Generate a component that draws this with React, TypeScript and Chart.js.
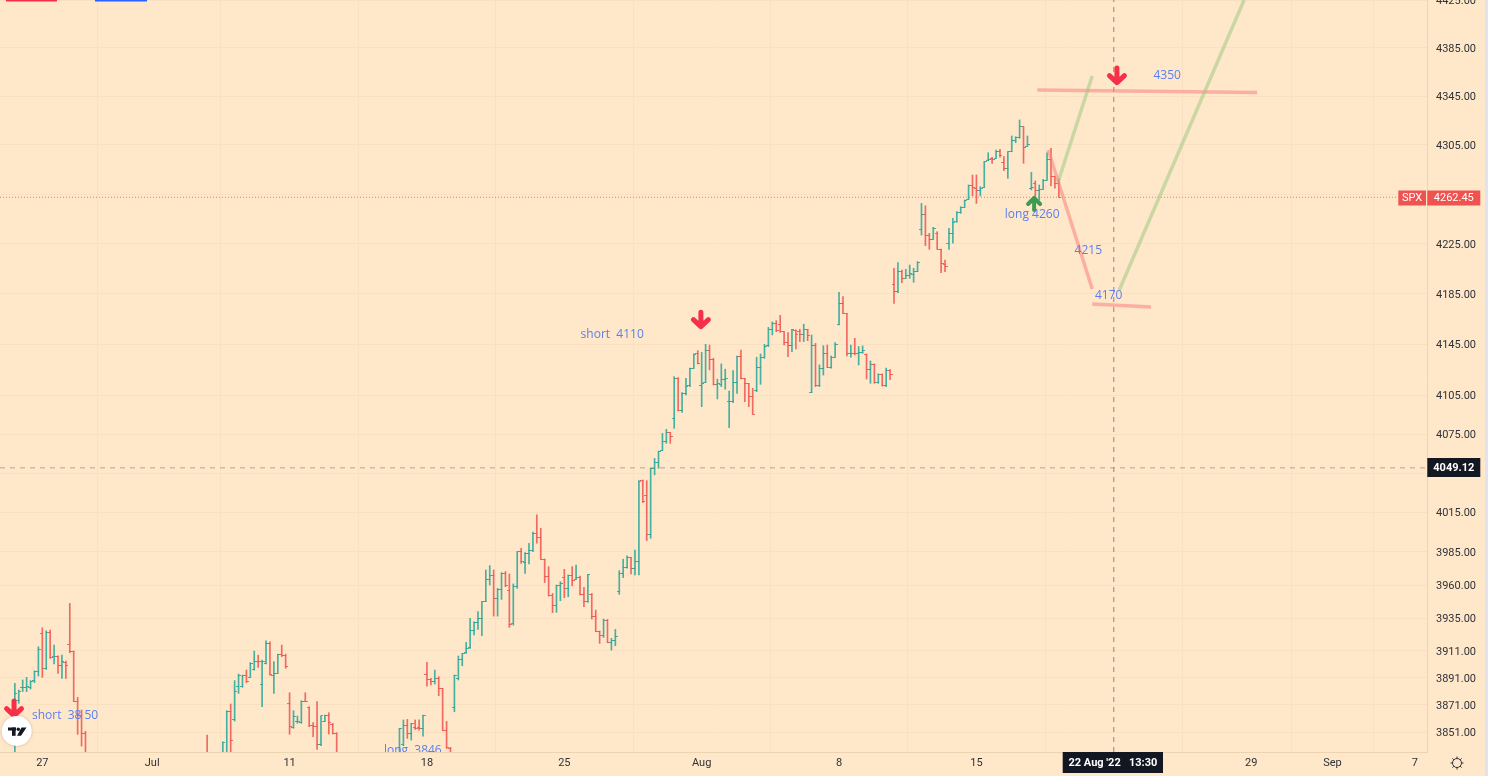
import React, { useEffect, useRef } from "react";
import { Chart, registerables } from "chart.js";

Chart.register(...registerables);

// Bars run over a trading-hour index (7 bars per session). Stretches that lie wholly below the axis are left out.
const barSegments = [[-7, 11], [42, 42], [46, 75], [91, 259]];

const opens = [
  3832, 3874.6, 3884, 3884, 3884, 3888.9, 3895.5, 3923.9, 3898, 3924.4, 3906.6, 3906.6, 3900.4, 3902.2, 3916, 3910.8, 3873.4, 3863.1, 3850.2,
  3836,
  3832, 3835, 3866, 3860, 3884.4, 3884.4, 3893, 3891.3, 3897.2, 3903.4, 3885.7, 3901.2, 3916.5, 3893, 3894.3, 3908.5, 3907.3, 3872.2, 3854.6, 3858.7, 3858, 3873.9, 3869.2, 3855.6, 3855.1, 3841.7, 3858.7, 3862.9, 3857, 3850.2,
  3834, 3841.7, 3855.8, 3850.2, 3854.3, 3854.3, 3853.9, 3893.5, 3889.9, 3888.1, 3890.6, 3883, 3852.6, 3839.2,
  3869.2, 3890.6, 3904.9, 3909.5, 3913.2, 3925.9, 3931.9, 3935.1, 3947.6, 3963.9, 3966.9, 3950.1, 3957.1, 3968.9, 3956.3, 3931.4, 3958.9, 3985.2, 3977.2, 3984, 3986.5, 3999.2, 3995.9, 3979.5, 3966.4, 3952.6,
  3945.1, 3959.6, 3965.9, 3957.6, 3967.2, 3964.4, 3965.9, 3953.1, 3947.6, 3953.3, 3936.4, 3925.2, 3922.7, 3933.9, 3917.2, 3919, 3955.6, 3968.9, 3973.2, 3981, 3972.7, 3977.7, 4039.3, 4028.3, 3998.4,
  4048.8, 4053.1, 4062.3, 4069.3, 4076.2, 4087.4, 4118, 4093.1, 4106.8, 4112.5, 4126.4, 4137.6, 4112.5, 4115.2, 4140.2, 4133.4, 4113.3, 4113.3, 4117.2, 4100.3, 4100.8, 4115.4, 4135.5, 4118, 4114.1, 4104.2,
  4108.6, 4127.1, 4135, 4143.9, 4157, 4161.2, 4160.4, 4155.2, 4146.5, 4144.1, 4155.9, 4155.2, 4152.5, 4156.5, 4107.6, 4144.6, 4112.8, 4126.4, 4138.1, 4127.1, 4135, 4160.9, 4177, 4169.6, 4137.6, 4138.1,
  4137.6, 4138.6, 4136.8, 4125.6, 4129, 4115.2, 4121.6, 4113, 4124.8, 4192.1, 4186.8, 4203.2, 4197.4, 4200, 4200.8, 4202.7, 4236.1, 4248.2, 4231.5, 4228.8, 4233.4, 4220.8, 4208.8, 4225.4, 4233.4, 4242.8,
  4250.3, 4254.3, 4260.7, 4271.6, 4269.7, 4267.9, 4270.6, 4292.2, 4294, 4294, 4299.4, 4290.8, 4286, 4299.4, 4308.5, 4311.2, 4319.9, 4304, 4269.4, 4273.9, 4267.9, 4269, 4276.4, 4293.2, 4279.1, 4273.7,
];

const highs = [
  3886.9, 3882, 3889.4, 3891.3, 3888.9, 3896.2, 3914, 3928.1, 3925.9, 3926.3, 3915.2, 3907.3, 3907.8, 3903.4, 3946.3, 3910.8, 3876.6, 3867.3, 3851.7,
  3849,
  3844.1, 3866.8, 3871.7, 3888.9, 3893.8, 3893, 3896.7, 3902.2, 3910.8, 3907.8, 3904.1, 3918.4, 3917.7, 3902.9, 3908.5, 3915.2, 3908.5, 3880, 3866.8, 3862.9, 3874.1, 3880, 3869.7, 3858, 3873.4, 3862.9, 3863.6, 3865.3, 3857.5, 3850.7,
  3853.9, 3860, 3860.4, 3857.5, 3860, 3860, 3863.6, 3902.4, 3890.6, 3896.7, 3891.8, 3883.3, 3859, 3840,
  3893, 3907.1, 3909, 3917.2, 3935.1, 3932.6, 3940.1, 3947.6, 3971.4, 3974.7, 3971.4, 3957.6, 3969.4, 3970.2, 3968.4, 3960.9, 3985.2, 3987.8, 3984.5, 3991.6, 4000, 4013.1, 4003, 3979.7, 3973.9, 3953.8,
  3960.1, 3962.6, 3971.9, 3967.7, 3973.9, 3975.2, 3966.9, 3958.4, 3968.2, 3953.8, 3941.3, 3925.7, 3934.6, 3934.4, 3920.2, 3926.9, 3970.9, 3979.5, 3982, 3981, 3986.5, 4039.3, 4039.8, 4039.3, 4048.8,
  4056.4, 4062, 4075.7, 4078.8, 4076.5, 4119.8, 4119, 4107.3, 4118.5, 4126.6, 4137.6, 4140.2, 4138.9, 4145.2, 4144.6, 4134.2, 4117.8, 4129.8, 4125.6, 4108.6, 4124.5, 4136, 4140.7, 4118.5, 4114.6, 4110.7,
  4135, 4137.6, 4145.2, 4158.5, 4162.8, 4163.8, 4168, 4155.2, 4154.4, 4157, 4156.5, 4157, 4161, 4157, 4152.5, 4145.9, 4129, 4144.1, 4144.6, 4136, 4146.5, 4186.3, 4182.8, 4169.6, 4144.6, 4149.9,
  4143.4, 4143.9, 4137.6, 4132.1, 4129.8, 4122, 4122, 4126.6, 4125.3, 4205.4, 4209.9, 4204, 4204.6, 4208, 4205.4, 4210.7, 4257.5, 4255.6, 4233.4, 4238.2, 4234.7, 4220.8, 4212, 4237.4, 4245.5, 4250.8,
  4254.8, 4260.2, 4272.4, 4280.5, 4280.5, 4271.1, 4291.4, 4298.6, 4294.9, 4300.8, 4301.4, 4295.4, 4299.4, 4312.3, 4311.7, 4325.4, 4319.9, 4312.3, 4282.7, 4275.7, 4272.4, 4276.9, 4298.6, 4302.2, 4279.7, 4277.3,
];

const lows = [
  3830, 3872.2, 3880.8, 3880.8, 3882.7, 3887.4, 3892.3, 3891.3, 3897.2, 3905.4, 3901.2, 3894.3, 3890.6, 3890.6, 3909.5, 3873.4, 3849.5, 3840.9, 3830,
  3830,
  3830, 3830, 3830, 3859.2, 3879.5, 3884, 3887.4, 3891.3, 3896.7, 3898.7, 3869.7, 3901.2, 3893, 3879.5, 3894.3, 3906.6, 3898, 3849.5, 3853.9, 3857.5, 3857.5, 3873.4, 3855.1, 3847.8, 3838.5, 3841.2, 3858.7, 3849.7, 3849.7, 3830,
  3830, 3841.2, 3846.5, 3845.3, 3853.1, 3852.6, 3848.2, 3884.9, 3885.7, 3886.4, 3877.8, 3852.1, 3839.2, 3830,
  3866, 3889.4, 3899.9, 3909, 3912.7, 3922.7, 3926.9, 3922.2, 3947.6, 3960.1, 3936.8, 3936.8, 3949.3, 3958.9, 3928.4, 3930.1, 3957.6, 3976.4, 3968.9, 3975.9, 3985.2, 3991.6, 3979.5, 3961.9, 3951.8, 3939.4,
  3939.6, 3948.3, 3950.6, 3951.3, 3959.4, 3964.4, 3952.6, 3943.8, 3947.1, 3934.6, 3925.2, 3916.5, 3920.9, 3917, 3911.5, 3914.7, 3953.1, 3965.7, 3972.7, 3968.4, 3967.7, 3967.7, 4022.5, 3993.6, 3995.4,
  4043.7, 4048.8, 4062.3, 4068, 4068, 4079.6, 4093.1, 4092, 4105.5, 4112, 4126.4, 4129.8, 4096.4, 4115.2, 4125.1, 4113.3, 4102.4, 4112, 4110, 4080.1, 4099.5, 4106.8, 4118, 4100.3, 4096.4, 4090.5,
  4108.1, 4113.8, 4134.2, 4143.4, 4152.5, 4155.2, 4154.6, 4144.6, 4135.5, 4139.4, 4141.5, 4147.3, 4147.3, 4148, 4107.3, 4112, 4112, 4121.1, 4126.9, 4126.4, 4135, 4160.4, 4169.6, 4136, 4135, 4136.8,
  4129, 4138.1, 4118, 4114.6, 4114.6, 4114.6, 4112.5, 4112, 4117.5, 4177.5, 4185.9, 4193.9, 4197.4, 4197.4, 4194.2, 4202.7, 4232, 4223.5, 4220.5, 4228.8, 4220.8, 4201.9, 4202.7, 4220.5, 4225.4, 4242.2,
  4249.5, 4254.3, 4260.7, 4263.6, 4257.5, 4263.5, 4270.6, 4292.2, 4290, 4294, 4294.9, 4284, 4277.8, 4299.4, 4306.8, 4310.4, 4290, 4304, 4268.4, 4261.6, 4260.2, 4269, 4276.4, 4271.6, 4269.8, 4262.5,
];

const closes = [
  3879.5, 3880.8, 3884, 3884.5, 3888.1, 3895.5, 3912, 3898, 3924.4, 3905.9, 3907, 3900.4, 3902.9, 3900.4, 3910.8, 3873.9, 3863.1, 3850.2, 3834,
  3832,
  3843.4, 3866, 3844.8, 3880.8, 3892.8, 3893, 3888.1, 3901.7, 3902.9, 3902.9, 3902.9, 3916.5, 3893.5, 3894.3, 3908.5, 3907.3, 3899.2, 3855.1, 3862.4, 3858.7, 3873.9, 3873.7, 3855.6, 3855.1, 3841.7, 3862.9, 3862.9, 3858.2, 3850.2, 3834,
  3853.9, 3855.8, 3850.2, 3857.5, 3853.6, 3853.6, 3863.1, 3889.9, 3888.6, 3890.6, 3882.8, 3852.6, 3840, 3834,
  3892.8, 3904.9, 3909, 3913, 3925.9, 3931.9, 3935.1, 3947.6, 3963.9, 3966.9, 3950.1, 3957.1, 3968.9, 3959.4, 3930.9, 3958.9, 3985.2, 3977.7, 3984, 3986.5, 3999.2, 3995.9, 3979.5, 3966.4, 3952.6, 3945.1,
  3959.6, 3961.4, 3957.6, 3967.2, 3963.6, 3965.9, 3953.1, 3947.6, 3967.7, 3936.4, 3925.4, 3922.7, 3933.9, 3917.2, 3919, 3921.4, 3968.9, 3973.2, 3981, 3972.7, 3977.7, 4038.5, 4023.2, 3998.4, 4048.8,
  4053.1, 4061.8, 4069.3, 4076.2, 4073.1, 4118.5, 4093.8, 4106.8, 4112, 4126.4, 4137, 4130.3, 4114.6, 4140.2, 4133.4, 4113.8, 4114.1, 4117.2, 4118.5, 4100.8, 4115.4, 4135.5, 4118.5, 4114.6, 4104.7, 4090.7,
  4127.1, 4135, 4143.4, 4157, 4161.2, 4155.9, 4155.2, 4146.7, 4144.1, 4156.5, 4152.5, 4152.5, 4156.5, 4152, 4144.6, 4112.8, 4126.4, 4138.1, 4127.1, 4135, 4145.4, 4177, 4169.6, 4137.6, 4138.1, 4137.6,
  4138.6, 4140.2, 4125.6, 4129, 4115.2, 4121.6, 4113, 4124.8, 4121.6, 4186.8, 4203.2, 4197.4, 4200, 4201.4, 4202.7, 4210.2, 4248.2, 4231.5, 4228.8, 4237.4, 4220.8, 4209.4, 4207.2, 4233.4, 4242.2, 4250.3,
  4254.3, 4259.7, 4271.6, 4270.5, 4267.8, 4269.8, 4291.4, 4293.2, 4293.2, 4299.4, 4296.7, 4286, 4299.4, 4308.5, 4311.2, 4319.9, 4302.7, 4305.5, 4270.6, 4267.9, 4269, 4276.4, 4293.2, 4279.1, 4273.7, 4262.45,
];

const priceTicks = [4425, 4385, 4345, 4305, 4265, 4225, 4185, 4145, 4105, 4075, 4045, 4015, 3985, 3960, 3935, 3911, 3891, 3871, 3851];
const hiddenPriceTicks = [4265, 4045];
const timeTickIndex = [0, 28, 63, 98, 133, 168, 203, 238, 273, 308, 328.7, 349.7];
const timeTickLabels = ["27", "Jul", "11", "18", "25", "Aug", "8", "15", "22", "29", "Sep", "7"];

const indexMin = -10.78;
const indexMax = 352.8;
const priceMin = 3836.6;
const priceMax = 4425;
const lastPrice = 4262.45;
const lastPriceLineEnd = 345.5;
const crosshairPrice = 4049.12;
const crosshairIndex = 273;

const greenPaths = [
  [[258.8, 4274.8], [267.5, 4361.6]],
  [[274.4, 4188.1], [306.2, 4425]],
];
const redPaths = [
  [[256.3, 4300.8], [267.5, 4188.9]],
  [[267.5, 4177], [282.5, 4174.7]],
  [[253.5, 4350], [309.5, 4348]],
];
const noteLabels = [
  { text: "4350", index: 286.6, price: 4361.6 },
  { text: "4215", index: 266.5, price: 4219.2 },
  { text: "4170", index: 271.7, price: 4184 },
  { text: "long 4260", index: 252.2, price: 4248.1 },
  { text: "short  4110", index: 145.2, price: 4152.5 },
  { text: "short  38 50", index: 5.8, price: 3862.9 },
  { text: "long  3846", index: 94.4, price: 3837.3 },
];
const arrowsDown = [[273.8, 4362.4], [167.8, 4165], [-7.2, 3868.7]];
const arrowsUp = [[252.7, 4257]];

const TEAL = "rgba(38,166,154,0.85)";
const RED = "rgba(239,83,80,0.85)";
const LABEL_RED = "#ef5350";
const AXIS_FONT = { family: "Roboto", size: 11 };
const TEXT = "#2f3238";
const BG = "#ffe7c9";

function tickImage(color: string, side: "left" | "right") {
  const c = document.createElement("canvas");
  c.width = 5;
  c.height = 1;
  const g = c.getContext("2d")!;
  g.fillStyle = color;
  g.fillRect(side === "left" ? 0 : 2, 0, 3, 1);
  return c;
}

const overlay = {
  id: "overlay",
  beforeDraw(chart: any) {
    const { ctx, width, height } = chart;
    ctx.save();
    ctx.fillStyle = BG;
    ctx.fillRect(0, 0, 1485, height);
    ctx.fillStyle = "#e1e3ee";
    ctx.fillRect(1485, 0, width - 1485, height);
    ctx.restore();
  },
  afterDraw(chart: any) {
    const { ctx, chartArea } = chart;
    const xs = chart.scales.x;
    const ys = chart.scales.y;
    ctx.save();

    // hand-style notes, clipped to the plot
    ctx.save();
    ctx.beginPath();
    ctx.rect(chartArea.left, chartArea.top, chartArea.right - chartArea.left, chartArea.bottom - chartArea.top);
    ctx.clip();
    ctx.font = '12px "Open Sans"';
    ctx.fillStyle = "#5a7ff0";
    ctx.textAlign = "center";
    ctx.textBaseline = "middle";
    for (const n of noteLabels) ctx.fillText(n.text, xs.getPixelForValue(n.index), ys.getPixelForValue(n.price));

    ctx.lineCap = "round";
    ctx.lineJoin = "round";
    ctx.strokeStyle = "#f7304a";
    ctx.lineWidth = 5;
    for (const [i, p] of arrowsDown) {
      const x = xs.getPixelForValue(i);
      const y = ys.getPixelForValue(p);
      ctx.beginPath();
      ctx.moveTo(x, y - 7);
      ctx.lineTo(x, y + 7);
      ctx.moveTo(x - 7.5, y + 0.5);
      ctx.lineTo(x, y + 7.5);
      ctx.lineTo(x + 7.5, y + 0.5);
      ctx.stroke();
    }
    ctx.strokeStyle = "#3f9a4f";
    ctx.lineWidth = 4;
    for (const [i, p] of arrowsUp) {
      const x = xs.getPixelForValue(i);
      const y = ys.getPixelForValue(p);
      ctx.beginPath();
      ctx.moveTo(x, y + 6);
      ctx.lineTo(x, y - 5);
      ctx.moveTo(x - 6, y);
      ctx.lineTo(x, y - 6);
      ctx.lineTo(x + 6, y);
      ctx.stroke();
    }
    ctx.restore();

    // top edge fragments
    ctx.fillStyle = "#f7304a";
    ctx.fillRect(6, 0, 51, 1.5);
    ctx.fillStyle = "#2962ff";
    ctx.fillRect(95, 0, 52, 1.5);

    // logo
    ctx.save();
    ctx.shadowColor = "rgba(120,100,70,.35)";
    ctx.shadowBlur = 3;
    ctx.fillStyle = "#fff";
    ctx.beginPath();
    ctx.arc(16.7, 731, 15, 0, Math.PI * 2);
    ctx.fill();
    ctx.restore();
    ctx.fillStyle = "#131722";
    ctx.fillRect(8, 727.5, 8, 3);
    ctx.fillRect(12, 727.5, 3.6, 8.3);
    ctx.beginPath();
    ctx.arc(18.3, 729.2, 1.7, 0, Math.PI * 2);
    ctx.fill();
    ctx.beginPath();
    ctx.moveTo(21.5, 727.5);
    ctx.lineTo(26.5, 727.5);
    ctx.lineTo(21, 735.8);
    ctx.lineTo(17, 735.8);
    ctx.fill();

    // label boxes
    const box = (x: number, y: number, w: number, h: number, fill: string, text: string, font: string) => {
      ctx.fillStyle = fill;
      ctx.fillRect(x, y, w, h);
      ctx.fillStyle = "#fff";
      ctx.font = font;
      ctx.textAlign = "center";
      ctx.textBaseline = "middle";
      ctx.fillText(text, x + w / 2, y + h / 2 + 0.5);
    };
    const priceFont = 'bold 11px "Roboto"';
    box(1398.3, 190.5, 27.7, 15, LABEL_RED, "SPX", '11px "Roboto"');
    box(1427.3, 190.5, 53, 15, LABEL_RED, lastPrice.toFixed(2), '11px "Roboto"');
    box(1427.3, 458, 53, 19, "#131722", crosshairPrice.toFixed(2), priceFont);
    box(1062.7, 752, 100.3, 21, "#131722", "22 Aug '22   13:30", priceFont);

    // gear
    ctx.strokeStyle = "#2f3238";
    ctx.lineWidth = 1;
    ctx.beginPath();
    ctx.arc(1457, 763, 4.5, 0, Math.PI * 2);
    ctx.stroke();
    for (let a = 0; a < 8; a++) {
      const t = (a * Math.PI) / 4;
      ctx.beginPath();
      ctx.moveTo(1457 + Math.cos(t) * 4.5, 763 + Math.sin(t) * 4.5);
      ctx.lineTo(1457 + Math.cos(t) * 6.5, 763 + Math.sin(t) * 6.5);
      ctx.stroke();
    }
    ctx.restore();
  },
};

export default function App() {
  const ref = useRef<HTMLCanvasElement>(null);

  useEffect(() => {
    const barIndex: number[] = [];
    for (const [a, b] of barSegments) for (let i = a; i <= b; i++) barIndex.push(i);
    const n = Math.min(barIndex.length, opens.length, highs.length, lows.length, closes.length);
    const rising = (k: number) => closes[k] >= opens[k];
    const styles = {
      tl: tickImage(TEAL, "left"),
      tr: tickImage(TEAL, "right"),
      rl: tickImage(RED, "left"),
      rr: tickImage(RED, "right"),
    };
    const range = Array.from({ length: n }, (_, k) => k);

    const pathDataset = (path: number[][], color: string, width: number) => ({
      type: "line",
      data: path.map(([x, y]) => ({ x, y })),
      borderColor: color,
      borderWidth: width,
      pointRadius: 0,
      tension: 0,
      order: 1,
    });

    const noPad = (s: any) => {
      s.paddingLeft = 0;
      s.paddingRight = 0;
      s.paddingTop = 0;
      s.paddingBottom = 0;
    };

    const chart = new Chart(ref.current!, {
      type: "bar",
      data: {
        datasets: [
          ...greenPaths.map((p) => pathDataset(p, "rgba(150,200,125,0.5)", 3.5)),
          ...redPaths.map((p) => pathDataset(p, "rgba(250,130,125,0.55)", 3.5)),
          {
            type: "line",
            data: [{ x: indexMin, y: lastPrice }, { x: lastPriceLineEnd, y: lastPrice }],
            borderColor: "rgba(239,83,80,0.75)",
            borderWidth: 1,
            borderDash: [1, 2],
            pointRadius: 0,
            order: 5,
          },
          {
            type: "line",
            data: [{ x: indexMin, y: crosshairPrice }, { x: indexMax, y: crosshairPrice }],
            borderColor: "rgba(150,145,135,0.5)",
            borderWidth: 1.5,
            borderDash: [5, 5],
            pointRadius: 0,
            order: 1,
          },
          {
            type: "line",
            data: [{ x: crosshairIndex, y: priceMin }, { x: crosshairIndex, y: priceMax }],
            borderColor: "rgba(110,110,110,0.8)",
            borderWidth: 1,
            borderDash: [5, 5],
            pointRadius: 0,
            order: 1,
          },
          {
            type: "scatter",
            data: range.map((k) => ({ x: barIndex[k], y: opens[k] })),
            pointStyle: range.map((k) => (rising(k) ? styles.tl : styles.rl)),
            pointRadius: 2,
            order: 3,
          },
          {
            type: "scatter",
            data: range.map((k) => ({ x: barIndex[k], y: closes[k] })),
            pointStyle: range.map((k) => (rising(k) ? styles.tr : styles.rr)),
            pointRadius: 2,
            order: 3,
          },
          {
            type: "bar",
            data: range.map((k) => ({ x: barIndex[k], y: [lows[k], highs[k]] })),
            backgroundColor: range.map((k) => (rising(k) ? TEAL : RED)),
            barThickness: 1,
            order: 4,
          },
        ] as any,
      },
      options: {
        animation: false,
        responsive: false,
        events: [],
        layout: { padding: 0, autoPadding: false },
        plugins: { legend: { display: false }, tooltip: { enabled: false } },
        scales: {
          x: {
            type: "linear",
            min: indexMin,
            max: indexMax,
            bounds: "data",
            offset: false,
            afterFit: (s: any) => {
              s.height = 24;
              noPad(s);
            },
            afterBuildTicks: (s: any) => {
              s.ticks = timeTickIndex.map((value) => ({ value }));
            },
            border: { color: "#ecd4b2", width: 1 },
            grid: { color: "#f8e0c1", drawTicks: false },
            ticks: {
              autoSkip: false,
              maxRotation: 0,
              padding: 5,
              color: TEXT,
              font: AXIS_FONT,
              callback: (v: any) => timeTickLabels[timeTickIndex.indexOf(Number(v))] ?? "",
            },
          },
          y: {
            type: "logarithmic",
            position: "right",
            min: priceMin,
            max: priceMax,
            bounds: "data",
            afterFit: (s: any) => {
              s.width = 61;
              noPad(s);
            },
            afterBuildTicks: (s: any) => {
              s.ticks = priceTicks.map((value) => ({ value }));
            },
            border: { color: "#ecd4b2", width: 1 },
            grid: { color: "#f8e0c1", drawTicks: false },
            ticks: {
              autoSkip: false,
              padding: 9,
              labelOffset: 1,
              color: TEXT,
              font: AXIS_FONT,
              callback: (v: any) => (hiddenPriceTicks.includes(Number(v)) ? "" : Number(v).toFixed(2)),
            },
          },
        },
      } as any,
      plugins: [overlay],
    });
    return () => chart.destroy();
  }, []);

  return (
    <div style={{ position: "fixed", left: 0, top: 0, width: 1488, height: 776, overflow: "hidden" }}>
      <canvas ref={ref} width={1488} height={776} style={{ display: "block" }} />
    </div>
  );
}
